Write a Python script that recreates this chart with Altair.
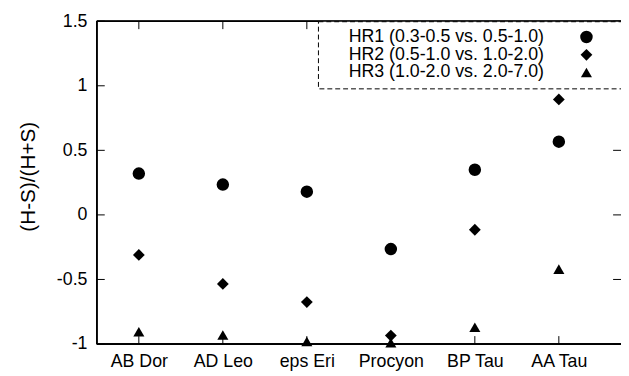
import altair as alt
import pandas as pd

stars = ["AB Dor", "AD Leo", "eps Eri", "Procyon", "BP Tau", "AA Tau"]
series_names = [
    "HR1 (0.3-0.5 vs. 0.5-1.0)",
    "HR2 (0.5-1.0 vs. 1.0-2.0)",
    "HR3 (1.0-2.0 vs. 2.0-7.0)",
]
hr1 = [0.32, 0.235, 0.18, -0.265, 0.35, 0.567]
hr2 = [-0.31, -0.535, -0.675, -0.935, -0.115, 0.894]
hr3 = [-0.905, -0.93, -0.98, -0.99, -0.87, -0.42]
y_ticks = [-1, -0.5, 0, 0.5, 1, 1.5]

rows = []
for name, vals in zip(series_names, [hr1, hr2, hr3]):
    for i, (s, v) in enumerate(zip(stars, vals)):
        rows.append({"idx": i, "star": s, "series": name, "value": v})
df = pd.DataFrame(rows)
xtick_df = pd.DataFrame({"idx": list(range(len(stars)))})
ytick_df = pd.DataFrame({"value": y_ticks})

FONT = "Liberation Sans"
FS = 18
W, H = 531, 327
TICK = 8
YTITLE = "(H-S)/(H+S)"
label_expr = "[" + ",".join("'%s'" % s for s in stars) + "][datum.value]"

xscale = alt.Scale(domain=[-0.5, 5.74], nice=False, zero=False)
yscale = alt.Scale(domain=[-1, 1.5], nice=False, zero=False)

xaxis = alt.Axis(orient="bottom", values=list(range(len(stars))),
                 labelExpr=label_expr, domain=False, ticks=False, grid=False,
                 labelFont=FONT, labelFontSize=FS, labelColor="black",
                 labelPadding=9, labelFlush=False)
yaxis = alt.Axis(orient="left", values=y_ticks,
                 labelExpr="datum.value + ''", domain=False, ticks=False, grid=False,
                 labelFont=FONT, labelFontSize=FS, labelColor="black",
                 labelPadding=10, labelFlush=False,
                 titleFont=FONT, titleFontSize=21, titleFontWeight="normal",
                 titleColor="black", titlePadding=18, titleY=157)

legend = alt.Legend(title="\u00a0", titleOrient="right", titlePadding=40, titleFontSize=6,
                    orient="none", legendX=224, legendY=0,
                    labelFont=FONT, labelFontSize=FS, labelColor="black",
                    labelAlign="right", labelOffset={"expr": "-52"}, labelLimit=500,
                    symbolOffset=256, symbolFillColor="black",
                    symbolStrokeColor="black", symbolStrokeWidth=0,
                    rowPadding=0, strokeColor="black",
                    padding=7, fillColor="white")

points = alt.Chart(df).mark_point(filled=True, opacity=1, color="black").encode(
    x=alt.X("idx:Q", scale=xscale, title=None, axis=xaxis),
    y=alt.Y("value:Q", scale=yscale, title=YTITLE, axis=yaxis),
    shape=alt.Shape("series:N",
                    scale=alt.Scale(domain=series_names,
                                    range=["circle", "diamond", "triangle-up"]),
                    legend=legend),
    size=alt.Size("series:N",
                  scale=alt.Scale(domain=series_names, range=[160, 125, 125]),
                  legend=legend),
)

rule = dict(color="black", strokeWidth=1)
# frame (left, top, bottom); the right edge lies just outside the picture
frame_left = alt.Chart(ytick_df).mark_rule(**rule).encode(
    x=alt.value(0), y=alt.value(0), y2=alt.value(H))
frame_top = alt.Chart(ytick_df).mark_rule(**rule).encode(
    y=alt.value(0), x=alt.value(0), x2=alt.value(W))
frame_bottom = alt.Chart(ytick_df).mark_rule(**rule).encode(
    y=alt.value(H), x=alt.value(0), x2=alt.value(W))
# inward ticks on all sides
ytick_left = alt.Chart(ytick_df).mark_rule(**rule).encode(
    y=alt.Y("value:Q", scale=yscale, title=YTITLE, axis=yaxis),
    x=alt.value(0), x2=alt.value(TICK))
ytick_right = alt.Chart(ytick_df).mark_rule(**rule).encode(
    y=alt.Y("value:Q", scale=yscale, title=YTITLE, axis=yaxis),
    x=alt.value(W - TICK), x2=alt.value(W))
xtick_bottom = alt.Chart(xtick_df).mark_rule(**rule).encode(
    x=alt.X("idx:Q", scale=xscale, title=None, axis=xaxis),
    y=alt.value(H - TICK), y2=alt.value(H))
xtick_top = alt.Chart(xtick_df).mark_rule(**rule).encode(
    x=alt.X("idx:Q", scale=xscale, title=None, axis=xaxis),
    y=alt.value(0), y2=alt.value(TICK))

chart = alt.layer(
    points,
    frame_left, frame_top, frame_bottom,
    ytick_left, ytick_right, xtick_bottom, xtick_top,
).properties(
    width=W, height=H,
    padding={"left": 90, "top": 11, "right": 0, "bottom": 30},
    autosize="none",
    background="white",
).configure_view(strokeWidth=0).configure_legend(
    strokeDash=[5, 3]
)

chart.save("out.html", embed_options={"renderer": "svg", "actions": False})
